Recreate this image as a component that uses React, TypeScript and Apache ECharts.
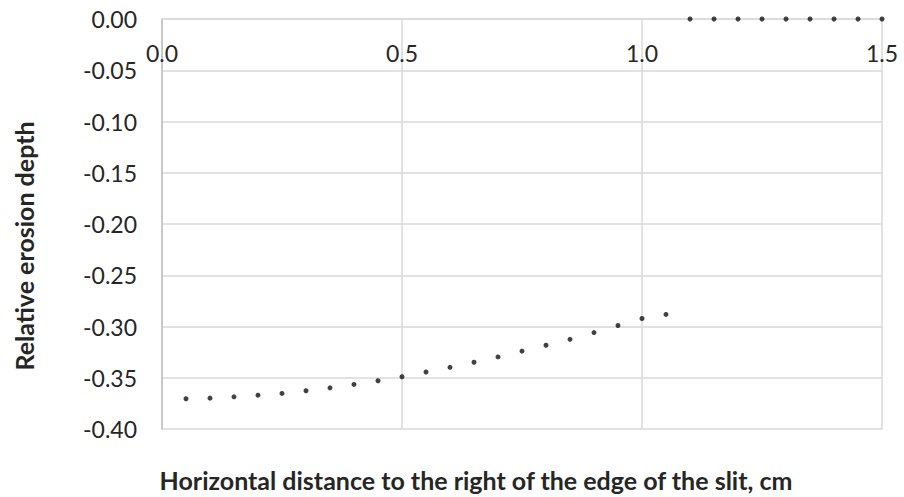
import React, { useEffect, useRef } from "react";
import * as echarts from "echarts";

const xSlope: number[] = [0.05, 0.1, 0.15, 0.2, 0.25, 0.3, 0.35, 0.4, 0.45, 0.5, 0.55, 0.6, 0.65, 0.7, 0.75, 0.8, 0.85, 0.9, 0.95, 1.0, 1.05];
const ySlope: number[] = [-0.3705, -0.3699, -0.3686, -0.367, -0.3653, -0.3627, -0.3598, -0.3565, -0.3529, -0.349, -0.3444, -0.3398, -0.3349, -0.3297, -0.324, -0.3183, -0.3125, -0.3059, -0.299, -0.2922, -0.2882];
const xFlat: number[] = [1.1, 1.15, 1.2, 1.25, 1.3, 1.35, 1.4, 1.45, 1.5];
const yFlat: number[] = [0, 0, 0, 0, 0, 0, 0, 0, 0];

const xTitle = "Horizontal distance to the right of the edge of the slit, cm";
const yTitle = "Relative erosion depth";

export default function App() {
  const ref = useRef<HTMLDivElement>(null);
  useEffect(() => {
    if (!ref.current) return;
    const chart = echarts.init(ref.current, undefined, { renderer: "svg" });
    const pts = xSlope.map((x, i) => [x, ySlope[i]]).concat(xFlat.map((x, i) => [x, yFlat[i]]));
    chart.setOption({
      animation: false,
      backgroundColor: "#ffffff",
      grid: { left: 162, right: 22, top: 19, bottom: 68 },
      xAxis: {
        type: "value",
        min: 0,
        max: 1.5,
        interval: 0.5,
        position: "top",
        axisLine: { show: true, onZero: false, lineStyle: { color: "#d9d9d9", width: 1.5 } },
        axisTick: { show: false },
        axisLabel: {
          inside: true,
          margin: 22,
          fontFamily: "Lato",
          fontSize: 23,
          color: "#262626",
          formatter: (v: number) => v.toFixed(1),
        },
        splitLine: { show: true, lineStyle: { color: "#d9d9d9", width: 1.5 } },
      },
      yAxis: {
        type: "value",
        min: -0.4,
        max: 0,
        interval: 0.05,
        axisLine: { show: true, onZero: false, lineStyle: { color: "#bfbfbf", width: 1.5 } },
        axisTick: { show: false },
        axisLabel: {
          margin: 25,
          fontFamily: "Lato",
          fontSize: 23,
          color: "#262626",
          formatter: (v: number) => v.toFixed(2),
        },
        splitLine: { show: true, lineStyle: { color: "#d9d9d9", width: 1.5 } },
      },
      series: [
        {
          type: "scatter",
          data: pts,
          symbol: "circle",
          symbolSize: 5,
          itemStyle: { color: "#111111" },
        },
      ],
      graphic: [
        {
          type: "text",
          x: 476,
          y: 480,
          style: {
            text: xTitle,
            fontFamily: "Lato",
            fontWeight: "bold",
            fontSize: 25,
            fill: "#262626",
            align: "center",
            verticalAlign: "middle",
          },
        },
        {
          type: "text",
          x: 24,
          y: 246,
          rotation: Math.PI / 2,
          style: {
            text: yTitle,
            fontFamily: "Lato",
            fontWeight: "bold",
            fontSize: 25,
            fill: "#262626",
            align: "center",
            verticalAlign: "middle",
          },
        },
      ],
    });
    return () => chart.dispose();
  }, []);
  return <div ref={ref} style={{ width: 904, height: 497, position: "absolute", left: 0, top: 0 }} />;
}
